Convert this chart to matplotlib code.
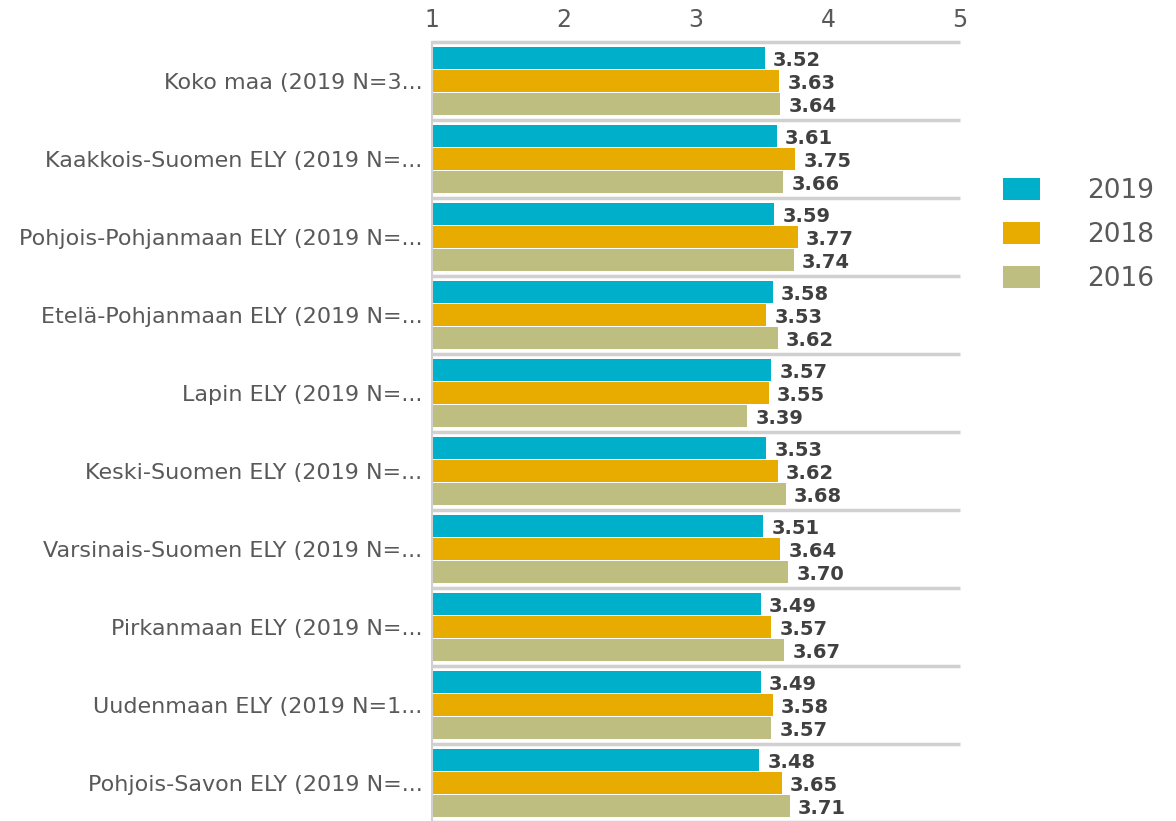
import matplotlib
matplotlib.use("Agg")
import matplotlib.pyplot as plt
from matplotlib.patches import Patch
import numpy as np

categories = [
    "Koko maa (2019 N=3...",
    "Kaakkois-Suomen ELY (2019 N=...",
    "Pohjois-Pohjanmaan ELY (2019 N=...",
    "Etelä-Pohjanmaan ELY (2019 N=...",
    "Lapin ELY (2019 N=...",
    "Keski-Suomen ELY (2019 N=...",
    "Varsinais-Suomen ELY (2019 N=...",
    "Pirkanmaan ELY (2019 N=...",
    "Uudenmaan ELY (2019 N=1...",
    "Pohjois-Savon ELY (2019 N=...",
]
series_names = ["2019", "2018", "2016"]
v2019 = [3.52, 3.61, 3.59, 3.58, 3.57, 3.53, 3.51, 3.49, 3.49, 3.48]
v2018 = [3.63, 3.75, 3.77, 3.53, 3.55, 3.62, 3.64, 3.57, 3.58, 3.65]
v2016 = [3.64, 3.66, 3.74, 3.62, 3.39, 3.68, 3.70, 3.67, 3.57, 3.71]
ticks = [1, 2, 3, 4, 5]

colors = ["#00B0CA", "#E8AB00", "#BEBE80"]
series = [v2019, v2018, v2016]

fig = plt.figure(figsize=(11.76, 8.21), dpi=100)
ax = fig.add_axes([432/1176, -1/821, 528/1176, 780/821])

y = np.arange(len(categories))
offsets = [-0.295, 0.0, 0.295]
h = 0.275
for vals, off, c in zip(series, offsets, colors):
    vals = np.array(vals)
    ax.barh(y + off, vals - 1, left=1, height=h, color=c, zorder=2)
    for yi, v in zip(y + off, vals):
        ax.annotate(f"{v:.2f}", (v, yi), xytext=(6, -2), textcoords="offset points",
                    ha="left", va="center", fontsize=14, fontweight="bold",
                    color="#404040")

for b in np.arange(len(categories) + 1) - 0.5:
    ax.plot([1, 5], [b, b], color="#D0D0D0", lw=2.5, zorder=1, solid_capstyle="butt",
            clip_on=False)

ax.set_xlim(1, 5)
ax.set_ylim(9.5, -0.5)
ax.xaxis.tick_top()
ax.set_xticks(ticks)
ax.set_xticklabels([str(t) for t in ticks])
ax.tick_params(axis="x", length=0, pad=7, labelsize=17, labelcolor="#595959")
ax.set_yticks(y)
ax.set_yticklabels(categories)
ax.tick_params(axis="y", length=0, pad=7, labelsize=16, labelcolor="#595959")
for s in ["top", "right", "bottom"]:
    ax.spines[s].set_visible(False)
ax.spines["left"].set_color("#D0D0D0")
ax.spines["left"].set_linewidth(1.5)

handles = [Patch(facecolor=c, label=n) for c, n in zip(colors, series_names)]
fig.legend(handles=handles, loc="center left", bbox_to_anchor=(1003/1176, 1 - 235/821),
           frameon=False, fontsize=19, labelcolor="#595959", handlelength=1.4,
           handleheight=0.9, handletextpad=1.8, labelspacing=0.68, borderpad=0,
           borderaxespad=0)

fig.savefig("out.png", dpi=100)
